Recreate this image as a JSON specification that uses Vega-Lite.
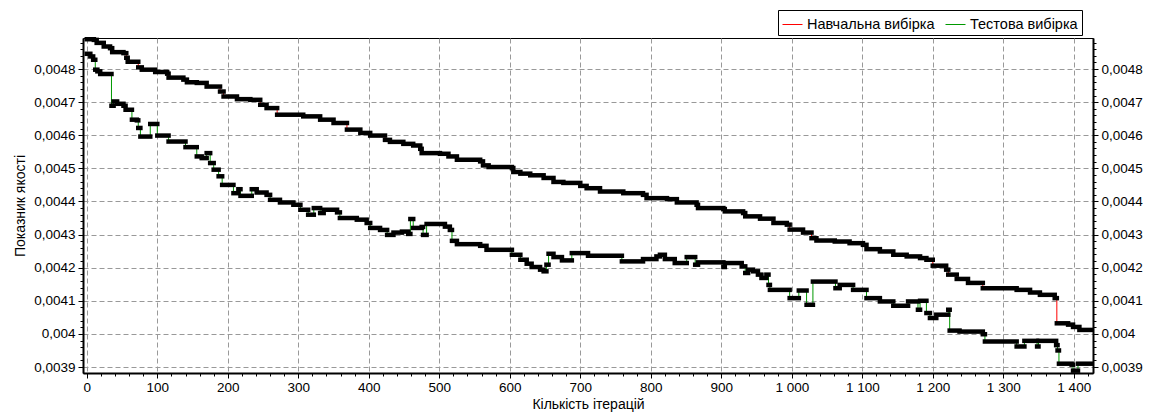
{
  "$schema": "https://vega.github.io/schema/vega-lite/v6.json",
  "width": 1010,
  "height": 335,
  "autosize": {"type": "none"},
  "padding": {"left": 83, "top": 38, "right": 56, "bottom": 43},
  "background": "#ffffff",
  "config": {
    "font": "Liberation Sans",
    "view": {"stroke": "#000000", "strokeWidth": 1},
    "axis": {
      "labelFont": "Liberation Sans",
      "labelFontSize": 13.5,
      "labelColor": "#000000",
      "titleFont": "Liberation Sans",
      "titleFontSize": 14,
      "titleFontWeight": "normal",
      "titleColor": "#000000",
      "tickColor": "#000000",
      "domainColor": "#000000",
      "domainWidth": 2,
      "gridColor": "#999999",
      "gridDash": [5, 3],
      "gridWidth": 1
    },
    "legend": {
      "labelFont": "Liberation Sans",
      "labelFontSize": 14.5,
      "labelColor": "#000000"
    }
  },
  "data": {
    "values": [
      {"s": "Навчальна вибірка", "x": 0, "x2": 10, "y": 0.004890},
      {"s": "Навчальна вибірка", "x": 10, "x2": 14, "y": 0.004888},
      {"s": "Навчальна вибірка", "x": 14, "x2": 24, "y": 0.004879},
      {"s": "Навчальна вибірка", "x": 24, "x2": 33, "y": 0.004868},
      {"s": "Навчальна вибірка", "x": 33, "x2": 36, "y": 0.004863},
      {"s": "Навчальна вибірка", "x": 36, "x2": 52, "y": 0.004851},
      {"s": "Навчальна вибірка", "x": 52, "x2": 56, "y": 0.004848},
      {"s": "Навчальна вибірка", "x": 56, "x2": 58, "y": 0.004834},
      {"s": "Навчальна вибірка", "x": 58, "x2": 73, "y": 0.004822},
      {"s": "Навчальна вибірка", "x": 73, "x2": 78, "y": 0.004805},
      {"s": "Навчальна вибірка", "x": 78, "x2": 97, "y": 0.004798},
      {"s": "Навчальна вибірка", "x": 97, "x2": 114, "y": 0.004791},
      {"s": "Навчальна вибірка", "x": 114, "x2": 116, "y": 0.004786},
      {"s": "Навчальна вибірка", "x": 116, "x2": 137, "y": 0.004774},
      {"s": "Навчальна вибірка", "x": 137, "x2": 142, "y": 0.004768},
      {"s": "Навчальна вибірка", "x": 142, "x2": 156, "y": 0.004760},
      {"s": "Навчальна вибірка", "x": 156, "x2": 170, "y": 0.004758},
      {"s": "Навчальна вибірка", "x": 170, "x2": 189, "y": 0.004747},
      {"s": "Навчальна вибірка", "x": 189, "x2": 194, "y": 0.004732},
      {"s": "Навчальна вибірка", "x": 194, "x2": 213, "y": 0.004717},
      {"s": "Навчальна вибірка", "x": 213, "x2": 232, "y": 0.004709},
      {"s": "Навчальна вибірка", "x": 232, "x2": 246, "y": 0.004707},
      {"s": "Навчальна вибірка", "x": 246, "x2": 255, "y": 0.004692},
      {"s": "Навчальна вибірка", "x": 255, "x2": 270, "y": 0.004682},
      {"s": "Навчальна вибірка", "x": 270, "x2": 307, "y": 0.004662},
      {"s": "Навчальна вибірка", "x": 307, "x2": 331, "y": 0.004657},
      {"s": "Навчальна вибірка", "x": 331, "x2": 350, "y": 0.004647},
      {"s": "Навчальна вибірка", "x": 350, "x2": 369, "y": 0.004637},
      {"s": "Навчальна вибірка", "x": 369, "x2": 388, "y": 0.004617},
      {"s": "Навчальна вибірка", "x": 388, "x2": 402, "y": 0.004607},
      {"s": "Навчальна вибірка", "x": 402, "x2": 423, "y": 0.004599},
      {"s": "Навчальна вибірка", "x": 423, "x2": 430, "y": 0.004586},
      {"s": "Навчальна вибірка", "x": 430, "x2": 449, "y": 0.004580},
      {"s": "Навчальна вибірка", "x": 449, "x2": 463, "y": 0.004574},
      {"s": "Навчальна вибірка", "x": 463, "x2": 473, "y": 0.004569},
      {"s": "Навчальна вибірка", "x": 473, "x2": 475, "y": 0.004559},
      {"s": "Навчальна вибірка", "x": 475, "x2": 501, "y": 0.004546},
      {"s": "Навчальна вибірка", "x": 501, "x2": 513, "y": 0.004544},
      {"s": "Навчальна вибірка", "x": 513, "x2": 525, "y": 0.004536},
      {"s": "Навчальна вибірка", "x": 525, "x2": 558, "y": 0.004526},
      {"s": "Навчальна вибірка", "x": 558, "x2": 562, "y": 0.004521},
      {"s": "Навчальна вибірка", "x": 562, "x2": 570, "y": 0.004509},
      {"s": "Навчальна вибірка", "x": 570, "x2": 603, "y": 0.004504},
      {"s": "Навчальна вибірка", "x": 603, "x2": 605, "y": 0.004501},
      {"s": "Навчальна вибірка", "x": 605, "x2": 615, "y": 0.004489},
      {"s": "Навчальна вибірка", "x": 615, "x2": 629, "y": 0.004484},
      {"s": "Навчальна вибірка", "x": 629, "x2": 648, "y": 0.004479},
      {"s": "Навчальна вибірка", "x": 648, "x2": 662, "y": 0.004471},
      {"s": "Навчальна вибірка", "x": 662, "x2": 676, "y": 0.004459},
      {"s": "Навчальна вибірка", "x": 676, "x2": 700, "y": 0.004456},
      {"s": "Навчальна вибірка", "x": 700, "x2": 709, "y": 0.004447},
      {"s": "Навчальна вибірка", "x": 709, "x2": 728, "y": 0.004440},
      {"s": "Навчальна вибірка", "x": 728, "x2": 761, "y": 0.004430},
      {"s": "Навчальна вибірка", "x": 761, "x2": 789, "y": 0.004425},
      {"s": "Навчальна вибірка", "x": 789, "x2": 794, "y": 0.004420},
      {"s": "Навчальна вибірка", "x": 794, "x2": 823, "y": 0.004410},
      {"s": "Навчальна вибірка", "x": 823, "x2": 837, "y": 0.004407},
      {"s": "Навчальна вибірка", "x": 837, "x2": 865, "y": 0.004397},
      {"s": "Навчальна вибірка", "x": 865, "x2": 867, "y": 0.004390},
      {"s": "Навчальна вибірка", "x": 867, "x2": 903, "y": 0.004380},
      {"s": "Навчальна вибірка", "x": 903, "x2": 905, "y": 0.004377},
      {"s": "Навчальна вибірка", "x": 905, "x2": 931, "y": 0.004370},
      {"s": "Навчальна вибірка", "x": 931, "x2": 934, "y": 0.004365},
      {"s": "Навчальна вибірка", "x": 934, "x2": 955, "y": 0.004355},
      {"s": "Навчальна вибірка", "x": 955, "x2": 974, "y": 0.004348},
      {"s": "Навчальна вибірка", "x": 974, "x2": 993, "y": 0.004335},
      {"s": "Навчальна вибірка", "x": 993, "x2": 997, "y": 0.004330},
      {"s": "Навчальна вибірка", "x": 997, "x2": 1016, "y": 0.004315},
      {"s": "Навчальна вибірка", "x": 1016, "x2": 1028, "y": 0.004306},
      {"s": "Навчальна вибірка", "x": 1028, "x2": 1035, "y": 0.004289},
      {"s": "Навчальна вибірка", "x": 1035, "x2": 1061, "y": 0.004282},
      {"s": "Навчальна вибірка", "x": 1061, "x2": 1082, "y": 0.004279},
      {"s": "Навчальна вибірка", "x": 1082, "x2": 1101, "y": 0.004274},
      {"s": "Навчальна вибірка", "x": 1101, "x2": 1106, "y": 0.004269},
      {"s": "Навчальна вибірка", "x": 1106, "x2": 1125, "y": 0.004256},
      {"s": "Навчальна вибірка", "x": 1125, "x2": 1144, "y": 0.004249},
      {"s": "Навчальна вибірка", "x": 1144, "x2": 1163, "y": 0.004239},
      {"s": "Навчальна вибірка", "x": 1163, "x2": 1182, "y": 0.004234},
      {"s": "Навчальна вибірка", "x": 1182, "x2": 1191, "y": 0.004229},
      {"s": "Навчальна вибірка", "x": 1191, "x2": 1200, "y": 0.004224},
      {"s": "Навчальна вибірка", "x": 1200, "x2": 1219, "y": 0.004206},
      {"s": "Навчальна вибірка", "x": 1219, "x2": 1222, "y": 0.004194},
      {"s": "Навчальна вибірка", "x": 1222, "x2": 1234, "y": 0.004179},
      {"s": "Навчальна вибірка", "x": 1234, "x2": 1250, "y": 0.004166},
      {"s": "Навчальна вибірка", "x": 1250, "x2": 1271, "y": 0.004154},
      {"s": "Навчальна вибірка", "x": 1271, "x2": 1319, "y": 0.004138},
      {"s": "Навчальна вибірка", "x": 1319, "x2": 1338, "y": 0.004133},
      {"s": "Навчальна вибірка", "x": 1338, "x2": 1352, "y": 0.004125},
      {"s": "Навчальна вибірка", "x": 1352, "x2": 1373, "y": 0.004118},
      {"s": "Навчальна вибірка", "x": 1373, "x2": 1376, "y": 0.004108},
      {"s": "Навчальна вибірка", "x": 1376, "x2": 1392, "y": 0.004032},
      {"s": "Навчальна вибірка", "x": 1392, "x2": 1399, "y": 0.004028},
      {"s": "Навчальна вибірка", "x": 1399, "x2": 1408, "y": 0.004021},
      {"s": "Навчальна вибірка", "x": 1408, "x2": 1425, "y": 0.004012},
      {"s": "Тестова вибірка", "x": 0, "x2": 5, "y": 0.004846},
      {"s": "Тестова вибірка", "x": 5, "x2": 9, "y": 0.004838},
      {"s": "Тестова вибірка", "x": 9, "x2": 12, "y": 0.004828},
      {"s": "Тестова вибірка", "x": 12, "x2": 15, "y": 0.004798},
      {"s": "Тестова вибірка", "x": 15, "x2": 19, "y": 0.004793},
      {"s": "Тестова вибірка", "x": 19, "x2": 35, "y": 0.004785},
      {"s": "Тестова вибірка", "x": 35, "x2": 38, "y": 0.004689},
      {"s": "Тестова вибірка", "x": 38, "x2": 43, "y": 0.004702},
      {"s": "Тестова вибірка", "x": 43, "x2": 52, "y": 0.004695},
      {"s": "Тестова вибірка", "x": 52, "x2": 55, "y": 0.004689},
      {"s": "Тестова вибірка", "x": 55, "x2": 64, "y": 0.004677},
      {"s": "Тестова вибірка", "x": 64, "x2": 71, "y": 0.004647},
      {"s": "Тестова вибірка", "x": 71, "x2": 73, "y": 0.004645},
      {"s": "Тестова вибірка", "x": 73, "x2": 76, "y": 0.004622},
      {"s": "Тестова вибірка", "x": 76, "x2": 90, "y": 0.004596},
      {"s": "Тестова вибірка", "x": 90, "x2": 100, "y": 0.004634},
      {"s": "Тестова вибірка", "x": 100, "x2": 116, "y": 0.004599},
      {"s": "Тестова вибірка", "x": 116, "x2": 140, "y": 0.004581},
      {"s": "Тестова вибірка", "x": 140, "x2": 156, "y": 0.004564},
      {"s": "Тестова вибірка", "x": 156, "x2": 163, "y": 0.004536},
      {"s": "Тестова вибірка", "x": 163, "x2": 170, "y": 0.004531},
      {"s": "Тестова вибірка", "x": 170, "x2": 175, "y": 0.004546},
      {"s": "Тестова вибірка", "x": 175, "x2": 180, "y": 0.004516},
      {"s": "Тестова вибірка", "x": 180, "x2": 187, "y": 0.004496},
      {"s": "Тестова вибірка", "x": 187, "x2": 192, "y": 0.004476},
      {"s": "Тестова вибірка", "x": 192, "x2": 208, "y": 0.004450},
      {"s": "Тестова вибірка", "x": 208, "x2": 215, "y": 0.004425},
      {"s": "Тестова вибірка", "x": 215, "x2": 218, "y": 0.004437},
      {"s": "Тестова вибірка", "x": 218, "x2": 234, "y": 0.004417},
      {"s": "Тестова вибірка", "x": 234, "x2": 241, "y": 0.004437},
      {"s": "Тестова вибірка", "x": 241, "x2": 255, "y": 0.004427},
      {"s": "Тестова вибірка", "x": 255, "x2": 260, "y": 0.004420},
      {"s": "Тестова вибірка", "x": 260, "x2": 274, "y": 0.004405},
      {"s": "Тестова вибірка", "x": 274, "x2": 293, "y": 0.004397},
      {"s": "Тестова вибірка", "x": 293, "x2": 303, "y": 0.004390},
      {"s": "Тестова вибірка", "x": 303, "x2": 314, "y": 0.004375},
      {"s": "Тестова вибірка", "x": 314, "x2": 322, "y": 0.004360},
      {"s": "Тестова вибірка", "x": 322, "x2": 331, "y": 0.004380},
      {"s": "Тестова вибірка", "x": 331, "x2": 336, "y": 0.004365},
      {"s": "Тестова вибірка", "x": 336, "x2": 355, "y": 0.004375},
      {"s": "Тестова вибірка", "x": 355, "x2": 359, "y": 0.004367},
      {"s": "Тестова вибірка", "x": 359, "x2": 383, "y": 0.004350},
      {"s": "Тестова вибірка", "x": 383, "x2": 397, "y": 0.004345},
      {"s": "Тестова вибірка", "x": 397, "x2": 402, "y": 0.004335},
      {"s": "Тестова вибірка", "x": 402, "x2": 416, "y": 0.004320},
      {"s": "Тестова вибірка", "x": 416, "x2": 426, "y": 0.004314},
      {"s": "Тестова вибірка", "x": 426, "x2": 435, "y": 0.004299},
      {"s": "Тестова вибірка", "x": 435, "x2": 447, "y": 0.004306},
      {"s": "Тестова вибірка", "x": 447, "x2": 456, "y": 0.004309},
      {"s": "Тестова вибірка", "x": 456, "x2": 459, "y": 0.004302},
      {"s": "Тестова вибірка", "x": 459, "x2": 463, "y": 0.004347},
      {"s": "Тестова вибірка", "x": 463, "x2": 475, "y": 0.004320},
      {"s": "Тестова вибірка", "x": 475, "x2": 477, "y": 0.004323},
      {"s": "Тестова вибірка", "x": 477, "x2": 482, "y": 0.004299},
      {"s": "Тестова вибірка", "x": 482, "x2": 508, "y": 0.004332},
      {"s": "Тестова вибірка", "x": 508, "x2": 515, "y": 0.004324},
      {"s": "Тестова вибірка", "x": 515, "x2": 518, "y": 0.004314},
      {"s": "Тестова вибірка", "x": 518, "x2": 525, "y": 0.004281},
      {"s": "Тестова вибірка", "x": 525, "x2": 558, "y": 0.004271},
      {"s": "Тестова вибірка", "x": 558, "x2": 567, "y": 0.004266},
      {"s": "Тестова вибірка", "x": 567, "x2": 603, "y": 0.004254},
      {"s": "Тестова вибірка", "x": 603, "x2": 615, "y": 0.004239},
      {"s": "Тестова вибірка", "x": 615, "x2": 624, "y": 0.004224},
      {"s": "Тестова вибірка", "x": 624, "x2": 631, "y": 0.004212},
      {"s": "Тестова вибірка", "x": 631, "x2": 643, "y": 0.004202},
      {"s": "Тестова вибірка", "x": 643, "x2": 648, "y": 0.004194},
      {"s": "Тестова вибірка", "x": 648, "x2": 652, "y": 0.004189},
      {"s": "Тестова вибірка", "x": 652, "x2": 655, "y": 0.004209},
      {"s": "Тестова вибірка", "x": 655, "x2": 662, "y": 0.004242},
      {"s": "Тестова вибірка", "x": 662, "x2": 674, "y": 0.004232},
      {"s": "Тестова вибірка", "x": 674, "x2": 688, "y": 0.004222},
      {"s": "Тестова вибірка", "x": 688, "x2": 711, "y": 0.004244},
      {"s": "Тестова вибірка", "x": 711, "x2": 759, "y": 0.004236},
      {"s": "Тестова вибірка", "x": 759, "x2": 789, "y": 0.004219},
      {"s": "Тестова вибірка", "x": 789, "x2": 808, "y": 0.004226},
      {"s": "Тестова вибірка", "x": 808, "x2": 813, "y": 0.004234},
      {"s": "Тестова вибірка", "x": 813, "x2": 820, "y": 0.004239},
      {"s": "Тестова вибірка", "x": 820, "x2": 834, "y": 0.004226},
      {"s": "Тестова вибірка", "x": 834, "x2": 851, "y": 0.004214},
      {"s": "Тестова вибірка", "x": 851, "x2": 863, "y": 0.004232},
      {"s": "Тестова вибірка", "x": 863, "x2": 867, "y": 0.004209},
      {"s": "Тестова вибірка", "x": 867, "x2": 903, "y": 0.004216},
      {"s": "Тестова вибірка", "x": 903, "x2": 905, "y": 0.004202},
      {"s": "Тестова вибірка", "x": 905, "x2": 929, "y": 0.004214},
      {"s": "Тестова вибірка", "x": 929, "x2": 934, "y": 0.004204},
      {"s": "Тестова вибірка", "x": 934, "x2": 938, "y": 0.004184},
      {"s": "Тестова вибірка", "x": 938, "x2": 945, "y": 0.004194},
      {"s": "Тестова вибірка", "x": 945, "x2": 952, "y": 0.004189},
      {"s": "Тестова вибірка", "x": 952, "x2": 957, "y": 0.004179},
      {"s": "Тестова вибірка", "x": 957, "x2": 964, "y": 0.004169},
      {"s": "Тестова вибірка", "x": 964, "x2": 967, "y": 0.004179},
      {"s": "Тестова вибірка", "x": 967, "x2": 969, "y": 0.004148},
      {"s": "Тестова вибірка", "x": 969, "x2": 997, "y": 0.004133},
      {"s": "Тестова вибірка", "x": 997, "x2": 1010, "y": 0.004108},
      {"s": "Тестова вибірка", "x": 1010, "x2": 1021, "y": 0.004131},
      {"s": "Тестова вибірка", "x": 1021, "x2": 1030, "y": 0.004088},
      {"s": "Тестова вибірка", "x": 1030, "x2": 1062, "y": 0.004158},
      {"s": "Тестова вибірка", "x": 1062, "x2": 1068, "y": 0.004138},
      {"s": "Тестова вибірка", "x": 1068, "x2": 1087, "y": 0.004148},
      {"s": "Тестова вибірка", "x": 1087, "x2": 1106, "y": 0.004133},
      {"s": "Тестова вибірка", "x": 1106, "x2": 1125, "y": 0.004108},
      {"s": "Тестова вибірка", "x": 1125, "x2": 1144, "y": 0.004098},
      {"s": "Тестова вибірка", "x": 1144, "x2": 1165, "y": 0.004085},
      {"s": "Тестова вибірка", "x": 1165, "x2": 1179, "y": 0.004098},
      {"s": "Тестова вибірка", "x": 1179, "x2": 1182, "y": 0.004073},
      {"s": "Тестова вибірка", "x": 1182, "x2": 1191, "y": 0.004100},
      {"s": "Тестова вибірка", "x": 1191, "x2": 1196, "y": 0.004063},
      {"s": "Тестова вибірка", "x": 1196, "x2": 1205, "y": 0.004048},
      {"s": "Тестова вибірка", "x": 1205, "x2": 1222, "y": 0.004058},
      {"s": "Тестова вибірка", "x": 1222, "x2": 1224, "y": 0.004073},
      {"s": "Тестова вибірка", "x": 1224, "x2": 1238, "y": 0.004010},
      {"s": "Тестова вибірка", "x": 1238, "x2": 1271, "y": 0.004007},
      {"s": "Тестова вибірка", "x": 1271, "x2": 1274, "y": 0.003999},
      {"s": "Тестова вибірка", "x": 1274, "x2": 1319, "y": 0.003977},
      {"s": "Тестова вибірка", "x": 1319, "x2": 1330, "y": 0.003962},
      {"s": "Тестова вибірка", "x": 1330, "x2": 1348, "y": 0.003979},
      {"s": "Тестова вибірка", "x": 1348, "x2": 1350, "y": 0.003962},
      {"s": "Тестова вибірка", "x": 1350, "x2": 1375, "y": 0.003979},
      {"s": "Тестова вибірка", "x": 1375, "x2": 1377, "y": 0.003966},
      {"s": "Тестова вибірка", "x": 1377, "x2": 1379, "y": 0.003950},
      {"s": "Тестова вибірка", "x": 1379, "x2": 1397, "y": 0.003910},
      {"s": "Тестова вибірка", "x": 1397, "x2": 1399, "y": 0.003907},
      {"s": "Тестова вибірка", "x": 1399, "x2": 1406, "y": 0.003889},
      {"s": "Тестова вибірка", "x": 1406, "x2": 1425, "y": 0.003910}
    ]
  },
  "resolve": {"axis": {"x": "independent", "y": "independent"}},
  "layer": [
    {
      "mark": {"type": "line", "interpolate": "step-after", "strokeWidth": 1},
      "encoding": {
        "x": {
          "field": "x", "type": "quantitative",
          "scale": {"domain": [-5.4, 1427.3], "nice": false, "zero": false},
          "axis": {
            "orient": "bottom",
            "values": [0, 100, 200, 300, 400, 500, 600, 700, 800, 900, 1000, 1100, 1200, 1300, 1400],
            "labelExpr": "replace(format(datum.value, ','), ',', ' ')",
            "grid": true, "tickSize": 5, "labelPadding": 2,
            "title": "Кількість ітерацій", "titlePadding": 4
          }
        },
        "y": {
          "field": "y", "type": "quantitative",
          "scale": {"domain": [0.0038819, 0.0048937], "nice": false, "zero": false},
          "axis": {
            "orient": "left",
            "values": [0.0039, 0.004, 0.0041, 0.0042, 0.0043, 0.0044, 0.0045, 0.0046, 0.0047, 0.0048],
            "labelExpr": "replace(format(datum.value, '.4~f'), '.', ',')",
            "grid": true, "tickSize": 5, "labelPadding": 3,
            "title": "Показник якості", "titlePadding": 6
          }
        },
        "color": {
          "field": "s", "type": "nominal",
          "scale": {"domain": ["Навчальна вибірка", "Тестова вибірка"], "range": ["#ff0000", "#009900"]},
          "legend": {
            "title": null, "orient": "none", "legendX": 695, "legendY": -28,
            "direction": "horizontal", "columns": 2, "gridAlign": "all",
            "symbolType": "stroke", "symbolSize": 400,
            "symbolStrokeWidth": 1, "strokeColor": "#000000", "fillColor": "#ffffff",
            "padding": 4, "columnPadding": 8, "labelOffset": 4
          }
        }
      }
    },
    {
      "mark": {"type": "rule", "color": "#000000", "strokeWidth": 4.5, "strokeCap": "square"},
      "encoding": {
        "x": {
          "field": "x", "type": "quantitative",
          "axis": {
            "orient": "bottom",
            "values": [0, 20, 40, 60, 80, 100, 120, 140, 160, 180, 200, 220, 240, 260, 280, 300, 320, 340, 360, 380, 400, 420, 440, 460, 480, 500, 520, 540, 560, 580, 600, 620, 640, 660, 680, 700, 720, 740, 760, 780, 800, 820, 840, 860, 880, 900, 920, 940, 960, 980, 1000, 1020, 1040, 1060, 1080, 1100, 1120, 1140, 1160, 1180, 1200, 1220, 1240, 1260, 1280, 1300, 1320, 1340, 1360, 1380, 1400, 1420],
            "labels": false, "grid": false, "domain": false, "tickSize": 3, "title": null
          }
        },
        "x2": {"field": "x2"},
        "y": {
          "field": "y", "type": "quantitative",
          "axis": {
            "orient": "right",
            "values": [0.0039, 0.004, 0.0041, 0.0042, 0.0043, 0.0044, 0.0045, 0.0046, 0.0047, 0.0048],
            "labelExpr": "replace(format(datum.value, '.4~f'), '.', ',')",
            "grid": false, "tickSize": 5, "labelPadding": 3, "title": null
          }
        }
      }
    },
    {
      "mark": {"type": "point", "opacity": 0},
      "encoding": {
        "x": {"field": "x", "type": "quantitative", "axis": null},
        "y": {
          "field": "y", "type": "quantitative",
          "axis": {
            "orient": "left",
            "values": [0.0039, 0.00392, 0.00394, 0.00396, 0.00398, 0.004, 0.00402, 0.00404, 0.00406, 0.00408, 0.0041, 0.00412, 0.00414, 0.00416, 0.00418, 0.0042, 0.00422, 0.00424, 0.00426, 0.00428, 0.0043, 0.00432, 0.00434, 0.00436, 0.00438, 0.0044, 0.00442, 0.00444, 0.00446, 0.00448, 0.0045, 0.00452, 0.00454, 0.00456, 0.00458, 0.0046, 0.00462, 0.00464, 0.00466, 0.00468, 0.0047, 0.00472, 0.00474, 0.00476, 0.00478, 0.0048, 0.00482, 0.00484, 0.00486, 0.00488],
            "labels": false, "grid": false, "domain": false, "tickSize": 3, "title": null
          }
        }
      }
    },
    {
      "mark": {"type": "point", "opacity": 0},
      "encoding": {
        "x": {"field": "x", "type": "quantitative", "axis": null},
        "y": {
          "field": "y", "type": "quantitative",
          "axis": {
            "orient": "right",
            "values": [0.0039, 0.00392, 0.00394, 0.00396, 0.00398, 0.004, 0.00402, 0.00404, 0.00406, 0.00408, 0.0041, 0.00412, 0.00414, 0.00416, 0.00418, 0.0042, 0.00422, 0.00424, 0.00426, 0.00428, 0.0043, 0.00432, 0.00434, 0.00436, 0.00438, 0.0044, 0.00442, 0.00444, 0.00446, 0.00448, 0.0045, 0.00452, 0.00454, 0.00456, 0.00458, 0.0046, 0.00462, 0.00464, 0.00466, 0.00468, 0.0047, 0.00472, 0.00474, 0.00476, 0.00478, 0.0048, 0.00482, 0.00484, 0.00486, 0.00488],
            "labels": false, "grid": false, "domain": false, "tickSize": 3, "title": null
          }
        }
      }
    }
  ]
}
